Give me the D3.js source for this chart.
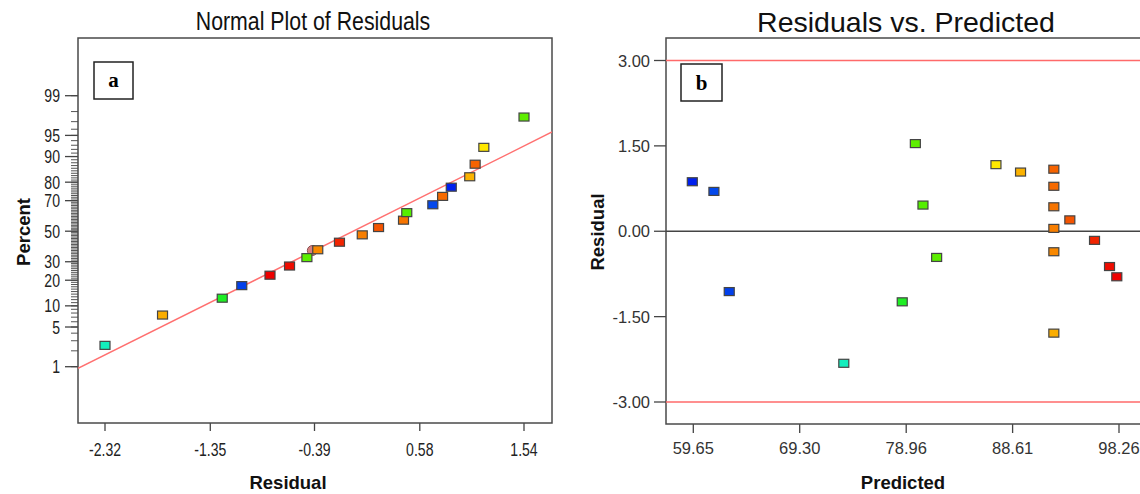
<!DOCTYPE html>
<html>
<head>
<meta charset="utf-8">
<script src="https://cdn.jsdelivr.net/npm/d3@7"></script>
<style>
  body { margin: 0; background: #fff; }
  svg { display: block; }
  .tick-a { font-family: "Liberation Sans", Arial, sans-serif; font-size: 18.5px; fill: #222; }
  .tick-b { font-family: "Liberation Sans", Arial, sans-serif; font-size: 16.5px; fill: #333; }
  .axis-title { font-family: "Liberation Sans", Arial, sans-serif; font-size: 18.5px; font-weight: bold; fill: #111; }
</style>
</head>
<body>
<svg id="chart" width="1140" height="494"></svg>
<script>
// residuals sorted ascending, with their normal-plot percent and predicted value
const residuals = [-2.32, -1.79, -1.24, -1.06, -0.80, -0.62, -0.46, -0.36, -0.16, 0.05,
                   0.20, 0.43, 0.46, 0.70, 0.79, 0.87, 1.04, 1.09, 1.17, 1.54];
const percents = [2.5, 7.5, 12.5, 17.5, 22.5, 27.5, 32.5, 37.5, 42.5, 47.5,
                  52.5, 57.5, 62.5, 67.5, 72.5, 77.5, 82.5, 87.5, 92.5, 97.5];
const predicted = [73.30, 92.35, 78.60, 62.91, 98.06, 97.40, 81.72, 92.35, 96.04, 92.35,
                   93.80, 92.35, 80.48, 61.52, 92.35, 59.56, 89.33, 92.35, 87.10, 79.79];

// hidden marker peeking out behind one point in the normal plot
const hiddenPoint = {res: -0.41, pct: 37.0};

// fitted normal line (mean, sd) of the residual plot
const lineMean = -0.034;
const lineSd = 1.076;

const residualTicks = [-2.32, -1.35, -0.39, 0.58, 1.54];
const percentTicks = [1, 5, 10, 20, 30, 50, 70, 80, 90, 95, 99];
const predictedTicks = [59.65, 69.30, 78.96, 88.61, 98.26];
const residualTicksB = [-3.00, -1.50, 0.00, 1.50, 3.00];
const limitLines = [-3, 3];

// inverse normal CDF (Acklam)
function probit(p) {
  const a = [-3.969683028665376e+01, 2.209460984245205e+02, -2.759285104469687e+02, 1.383577518672690e+02, -3.066479806614716e+01, 2.506628277459239e+00];
  const b = [-5.447609879822406e+01, 1.615858368580409e+02, -1.556989798598866e+02, 6.680131188771972e+01, -1.328068155288572e+01];
  const c = [-7.784894002430293e-03, -3.223964580411365e-01, -2.400758277161838e+00, -2.549732539343734e+00, 4.374664141464968e+00, 2.938163982698783e+00];
  const d = [7.784695709041462e-03, 3.224671290700398e-01, 2.445134137142996e+00, 3.754408661907416e+00];
  const pl = 0.02425;
  if (p < pl) {
    const q = Math.sqrt(-2 * Math.log(p));
    return (((((c[0]*q+c[1])*q+c[2])*q+c[3])*q+c[4])*q+c[5]) / ((((d[0]*q+d[1])*q+d[2])*q+d[3])*q+1);
  }
  if (p > 1 - pl) {
    const q = Math.sqrt(-2 * Math.log(1 - p));
    return -(((((c[0]*q+c[1])*q+c[2])*q+c[3])*q+c[4])*q+c[5]) / ((((d[0]*q+d[1])*q+d[2])*q+d[3])*q+1);
  }
  const q = p - 0.5, r = q * q;
  return (((((a[0]*r+a[1])*r+a[2])*r+a[3])*r+a[4])*r+a[5])*q / (((((b[0]*r+b[1])*r+b[2])*r+b[3])*r+b[4])*r+1);
}

const points = residuals.map((r, i) => ({res: r, pct: percents[i], pred: predicted[i], actual: predicted[i] + r}));

// points are coloured by actual response, blue (low) to red (high)
const [aMin, aMax] = d3.extent(points, d => d.actual);
const color = d3.scaleLinear()
  .domain(d3.range(5).map(i => aMin + (aMax - aMin) * i / 4))
  .range(['#0020ee', '#10eedd', '#22ee00', '#ffee00', '#ee0000']);

const svg = d3.select('#chart');
const frameColor = '#4a4a4a';
const markW = 10, markH = 8;
const narrow = 0.76; // horizontal squeeze for the condensed font of panel a
const fmt = v => d3.format('.2f')(v).replace('−', '-');

// ---------- panel a: normal plot ----------
const A = {left: 78, top: 38, right: 552, bottom: 423};
const xA = d3.scaleLinear().domain([-2.32, 1.54]).range([105, 524]);
const zA = d3.scaleLinear().domain([probit(0.01), probit(0.99)]).range([366.7, 95.7]);
const yA = pct => zA(probit(pct / 100));

const ga = svg.append('g');

ga.append('text')
  .attr('transform', `translate(313, 30) scale(0.82, 1)`)
  .attr('text-anchor', 'middle')
  .style('font-family', '"Liberation Sans", Arial, sans-serif')
  .style('font-size', '26px')
  .attr('fill', '#111')
  .text('Normal Plot of Residuals');

ga.append('defs').append('clipPath').attr('id', 'clipA')
  .append('rect')
  .attr('x', A.left).attr('y', A.top)
  .attr('width', A.right - A.left).attr('height', A.bottom - A.top);

// minor percent ticks
ga.selectAll('.minor')
  .data(d3.range(1, 100))
  .enter().append('line')
    .attr('x1', A.left - 7).attr('x2', A.left)
    .attr('y1', d => yA(d)).attr('y2', d => yA(d))
    .attr('stroke', '#555').attr('stroke-width', 1);

ga.selectAll('.major')
  .data(percentTicks)
  .enter().append('line')
    .attr('x1', A.left - 13).attr('x2', A.left)
    .attr('y1', d => yA(d)).attr('y2', d => yA(d))
    .attr('stroke', '#444').attr('stroke-width', 1.3);

ga.selectAll('.ylab')
  .data(percentTicks)
  .enter().append('text')
    .attr('class', 'tick-a')
    .attr('transform', d => `translate(${A.left - 18}, ${yA(d) + 6.5}) scale(${narrow}, 1)`)
    .attr('text-anchor', 'end')
    .text(d => d);

ga.selectAll('.xtick')
  .data(residualTicks)
  .enter().append('line')
    .attr('x1', d => xA(d)).attr('x2', d => xA(d))
    .attr('y1', A.bottom).attr('y2', A.bottom + 8)
    .attr('stroke', '#444').attr('stroke-width', 1.3);

ga.selectAll('.xlab')
  .data(residualTicks)
  .enter().append('text')
    .attr('class', 'tick-a')
    .attr('transform', d => `translate(${xA(d)}, ${A.bottom + 33}) scale(${narrow}, 1)`)
    .attr('text-anchor', 'middle')
    .text(d => fmt(d));

ga.append('rect')
  .attr('x', A.left).attr('y', A.top)
  .attr('width', A.right - A.left).attr('height', A.bottom - A.top)
  .attr('fill', 'none').attr('stroke', frameColor).attr('stroke-width', 1.5);

// reference line
const xEnds = [xA.invert(A.left), xA.invert(A.right)];
ga.append('line')
  .attr('clip-path', 'url(#clipA)')
  .attr('x1', xA(xEnds[0])).attr('y1', zA((xEnds[0] - lineMean) / lineSd))
  .attr('x2', xA(xEnds[1])).attr('y2', zA((xEnds[1] - lineMean) / lineSd))
  .attr('stroke', '#ff7070').attr('stroke-width', 1.5);

ga.append('circle')
  .attr('cx', xA(hiddenPoint.res)).attr('cy', yA(hiddenPoint.pct))
  .attr('r', 5)
  .attr('fill', '#d88080').attr('stroke', '#8a5050').attr('stroke-width', 1);

ga.selectAll('.pt')
  .data(points)
  .enter().append('rect')
    .attr('x', d => xA(d.res) - markW / 2)
    .attr('y', d => yA(d.pct) - markH / 2)
    .attr('width', markW).attr('height', markH)
    .attr('fill', d => color(d.actual))
    .attr('stroke', '#444').attr('stroke-width', 1.2);

ga.append('rect')
  .attr('x', 94).attr('y', 62).attr('width', 39).attr('height', 37)
  .attr('fill', '#fff').attr('stroke', '#222').attr('stroke-width', 1.5);
ga.append('text')
  .attr('x', 113.5).attr('y', 87)
  .attr('text-anchor', 'middle')
  .style('font-family', '"Liberation Serif", "Times New Roman", serif')
  .style('font-size', '21px').style('font-weight', 'bold')
  .text('a');

ga.append('text')
  .attr('class', 'axis-title')
  .attr('transform', `translate(${30}, ${232}) rotate(-90)`)
  .attr('text-anchor', 'middle')
  .text('Percent');

ga.append('text')
  .attr('class', 'axis-title')
  .attr('x', 288).attr('y', 489)
  .attr('text-anchor', 'middle')
  .text('Residual');

// ---------- panel b: residuals vs predicted ----------
const B = {left: 666, top: 38, right: 1160, bottom: 424};
const xB = d3.scaleLinear().domain([59.65, 98.26]).range([693.3, 1119]);
const yB = d3.scaleLinear().domain([-3, 3]).range([402, 60.5]);

const gb = svg.append('g');

gb.append('text')
  .attr('x', 906).attr('y', 32)
  .attr('text-anchor', 'middle')
  .style('font-family', '"Liberation Sans", Arial, sans-serif')
  .style('font-size', '28.5px')
  .attr('fill', '#111')
  .text('Residuals vs. Predicted');

gb.selectAll('.ytick')
  .data(residualTicksB)
  .enter().append('line')
    .attr('x1', B.left - 12).attr('x2', B.left)
    .attr('y1', d => yB(d)).attr('y2', d => yB(d))
    .attr('stroke', '#444').attr('stroke-width', 1.3);

gb.selectAll('.ylab')
  .data(residualTicksB)
  .enter().append('text')
    .attr('class', 'tick-b')
    .attr('x', B.left - 16)
    .attr('y', d => yB(d) + 6)
    .attr('text-anchor', 'end')
    .text(d => fmt(d));

gb.selectAll('.xtick')
  .data(predictedTicks)
  .enter().append('line')
    .attr('x1', d => xB(d)).attr('x2', d => xB(d))
    .attr('y1', B.bottom).attr('y2', B.bottom + 9)
    .attr('stroke', '#444').attr('stroke-width', 1.3);

gb.selectAll('.xlab')
  .data(predictedTicks)
  .enter().append('text')
    .attr('class', 'tick-b')
    .attr('x', d => xB(d))
    .attr('y', B.bottom + 30)
    .attr('text-anchor', 'middle')
    .text(d => fmt(d));

gb.append('rect')
  .attr('x', B.left).attr('y', B.top)
  .attr('width', B.right - B.left).attr('height', B.bottom - B.top)
  .attr('fill', 'none').attr('stroke', frameColor).attr('stroke-width', 1.5);

gb.selectAll('.limit')
  .data(limitLines)
  .enter().append('line')
    .attr('x1', B.left).attr('x2', B.right)
    .attr('y1', d => yB(d)).attr('y2', d => yB(d))
    .attr('stroke', '#ff6a6a').attr('stroke-width', 1.5);

gb.append('line')
  .attr('x1', B.left).attr('x2', B.right)
  .attr('y1', yB(0)).attr('y2', yB(0))
  .attr('stroke', '#444').attr('stroke-width', 1.5);

gb.selectAll('.pt')
  .data(points)
  .enter().append('rect')
    .attr('x', d => xB(d.pred) - markW / 2)
    .attr('y', d => yB(d.res) - markH / 2)
    .attr('width', markW).attr('height', markH)
    .attr('fill', d => color(d.actual))
    .attr('stroke', '#444').attr('stroke-width', 1.2);

gb.append('rect')
  .attr('x', 681).attr('y', 64).attr('width', 41).attr('height', 37)
  .attr('fill', '#fff').attr('stroke', '#222').attr('stroke-width', 1.5);
gb.append('text')
  .attr('x', 701.5).attr('y', 90)
  .attr('text-anchor', 'middle')
  .style('font-family', '"Liberation Serif", "Times New Roman", serif')
  .style('font-size', '21px').style('font-weight', 'bold')
  .text('b');

gb.append('text')
  .attr('class', 'axis-title')
  .attr('transform', `translate(${604}, ${232}) rotate(-90)`)
  .attr('text-anchor', 'middle')
  .text('Residual');

gb.append('text')
  .attr('class', 'axis-title')
  .attr('x', 903).attr('y', 489)
  .attr('text-anchor', 'middle')
  .text('Predicted');
</script>
</body>
</html>
